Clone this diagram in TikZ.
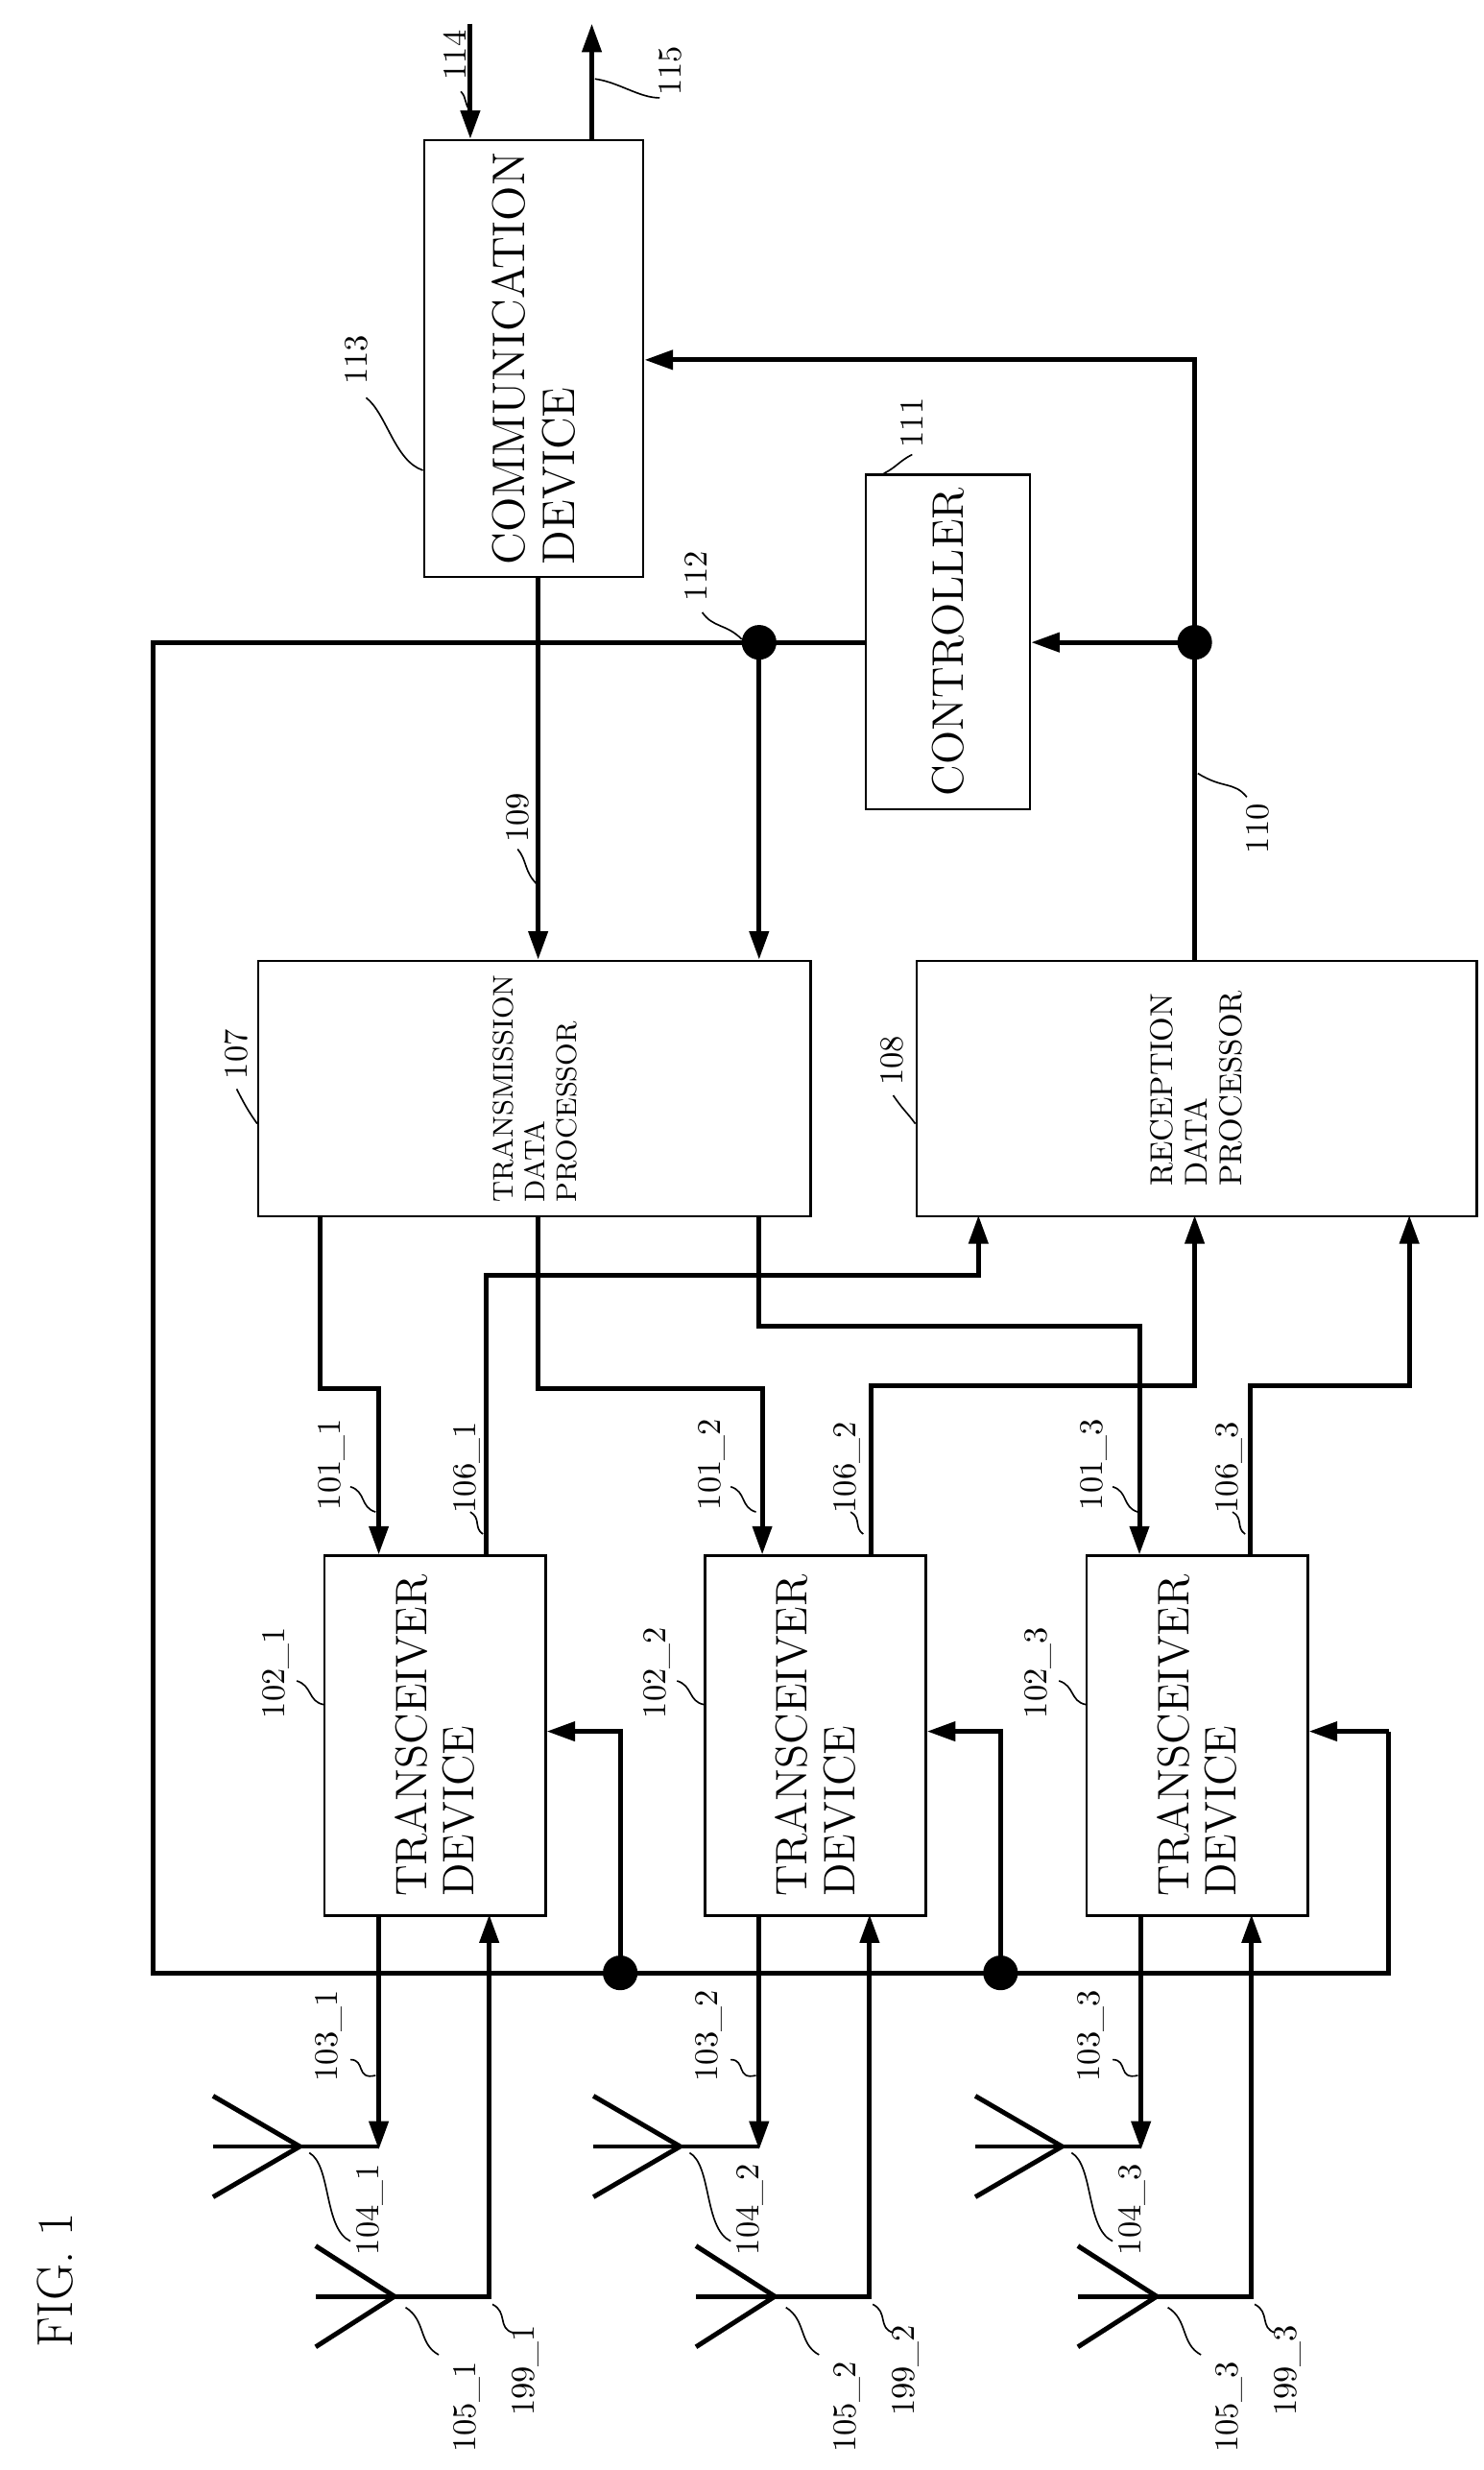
\documentclass[tikz,border=0pt]{standalone}
\usetikzlibrary{arrows.meta}
\begin{document}
\begin{tikzpicture}[x=0.5pt,y=-0.5pt,
  box/.style={draw,line width=0.7pt,inner sep=0pt,anchor=north west},
  wire/.style={line width=1.5pt},
  arr/.style={wire,-{Triangle[length=9pt,width=6pt]}},
  lab/.style={rotate=90,font=\fontsize{10.5}{11}\selectfont,inner sep=1pt},
  btext/.style={rotate=90,font=\fontsize{14}{15}\selectfont,align=left},
  lead/.style={line width=0.5pt},
  dot/.style={circle,fill,inner sep=0pt,minimum size=11pt}]
\useasboundingbox (0,0) rectangle (940,1565);
% boxes
\node[box,minimum width=69.5pt,minimum height=138.5pt] (C) at (268,88) {};
\node[btext,font=\fontsize{14.5}{16}\selectfont] at (C.center) {COMMUNICATION\\DEVICE};
\node[box,minimum width=52pt,minimum height=106pt] (K) at (548,300) {};
\node[btext] at (K.center) {CONTROLLER};
\node[box,minimum width=175pt,minimum height=81pt] (TP) at (163,608) {};
\node[rotate=90,font=\fontsize{9}{10}\selectfont,align=left] at (TP.center) {TRANSMISSION\\DATA\\PROCESSOR};
\node[box,minimum width=177.5pt,minimum height=81pt] (RP) at (580,608) {};
\node[rotate=90,font=\fontsize{10}{11}\selectfont,align=left] at (RP.center) {RECEPTION\\DATA\\PROCESSOR};
% top arrows
\coordinate (i114) at (298,15); \coordinate (o115) at (375,15);
\draw[arr] (i114) -- (i114|-C.north);
\draw[arr] (o115|-C.north) -- (o115);
% 109
\draw[arr] (341,365) -- (341,608);
% bus 112
\node[dot] (D1) at (481,407) {};
\node[dot] (D2) at (757,407) {};
\node[dot] (B1) at (393,1250) {};
\node[dot] (B2) at (634,1250) {};
\draw[wire] (K.west|-D1) -- (97,407) -- (97,1250) -- (880,1250) -- (880,1097);
\draw[arr] (D1.center) -- (481,608);
% 110
\draw[wire] (757,608) -- (D2.center);
\draw[arr] (D2.center) -- (K.east|-D2);
\draw[arr] (D2.center) -- (757,228) -- (C.east|-0,228);
% transceivers
\foreach \i/\o in {1/0,2/241,3/483}{
  \node[box,minimum width=70pt,minimum height=114pt] (T\i) at (205+\o,985) {};
  \node[btext] at (T\i.center) {TRANSCEIVER\\DEVICE};
  \coordinate (A\i) at (190+\o,1360);
  \coordinate (E\i) at (250+\o,1455);
  \draw[wire] (135+\o,1328) -- (A\i) -- (135+\o,1392);
  \draw[wire] (135+\o,1360) -- (240+\o,1360);
  \draw[wire] (200+\o,1423) -- (E\i) -- (200+\o,1487);
  \draw[arr] (240+\o,1213) -- (240+\o,1362);
  \draw[wire] (200+\o,1455) -- (E\i);
  \draw[arr] (E\i) -- (310+\o,1455) -- (310+\o,1213);
  \draw[lead] (238+\o,1315) .. controls (225+\o,1318) and (232+\o,1305) .. (222+\o,1305);
  \node[lab] at (208+\o,1290) {103\_\i};
  \draw[lead] (196+\o,1364) .. controls (210+\o,1372) and (205+\o,1412) .. (222+\o,1420);
  \node[lab] at (234+\o,1400) {104\_\i};
  \draw[lead] (312+\o,1460) .. controls (322+\o,1465) and (315+\o,1475) .. (325+\o,1478);
  \node[lab] at (333+\o,1502) {199\_\i};
  \draw[lead] (257+\o,1462) .. controls (270+\o,1470) and (265+\o,1485) .. (278+\o,1492);
  \node[lab] at (296+\o,1525) {105\_\i};
  \draw[lead] (205+\o,1080) .. controls (195+\o,1078) and (198+\o,1068) .. (188+\o,1065);
  \node[lab] at (175+\o,1060) {102\_\i};
  \draw[lead] (238+\o,958) .. controls (228+\o,955) and (232+\o,945) .. (222+\o,942);
  \node[lab] at (210+\o,928) {101\_\i};
  \draw[lead] (306+\o,972) .. controls (300+\o,968) and (305+\o,962) .. (298+\o,958);
  \node[lab] at (296+\o,930) {106\_\i};
}
\draw[arr] (B1.center) -- (393,1097) -- (T1.east|-0,1097);
\draw[arr] (B2.center) -- (634,1097) -- (T2.east|-0,1097);
\draw[arr] (880,1097) -- (T3.east|-0,1097);
% 101 routes
\draw[arr] (203,770) -- (203,880) -- (240,880) -- (240,985);
\draw[arr] (341,770) -- (341,880) -- (483,880) -- (483,985);
\draw[arr] (481,770) -- (481,840) -- (722,840) -- (722,985);
% 106 routes
\draw[arr] (308,985) -- (308,808) -- (620,808) -- (620,770);
\draw[arr] (552,985) -- (552,878) -- (757,878) -- (757,770);
\draw[arr] (792,985) -- (792,878) -- (893,878) -- (893,770);
% labels
\node[lab] at (288,35) {114};
\draw[lead] (292,58) .. controls (296,62) and (294,66) .. (298,70);
\node[lab] at (425,45) {115};
\draw[lead] (418,62) .. controls (405,62) and (392,52) .. (377,50);
\node[lab] at (226,228) {113};
\draw[lead] (232,252) .. controls (245,262) and (250,292) .. (268,298);
\node[lab] at (578,268) {111};
\draw[lead] (578,288) .. controls (570,292) and (568,296) .. (560,300);
\node[lab] at (441,365) {112};
\draw[lead] (445,388) .. controls (452,398) and (460,395) .. (470,405);
\node[lab] at (328,518) {109};
\draw[lead] (328,538) .. controls (334,545) and (332,552) .. (340,560);
\node[lab] at (797,525) {110};
\draw[lead] (790,505) .. controls (782,495) and (775,500) .. (759,490);
\node[lab] at (150,668) {107};
\draw[lead] (150,690) .. controls (155,700) and (158,705) .. (163,712);
\node[lab] at (565,672) {108};
\draw[lead] (566,694) .. controls (572,703) and (575,705) .. (580,712);
\node[rotate=90,font=\fontsize{16}{17}\selectfont] at (35,1445) {FIG. 1};
\end{tikzpicture}
\end{document}
